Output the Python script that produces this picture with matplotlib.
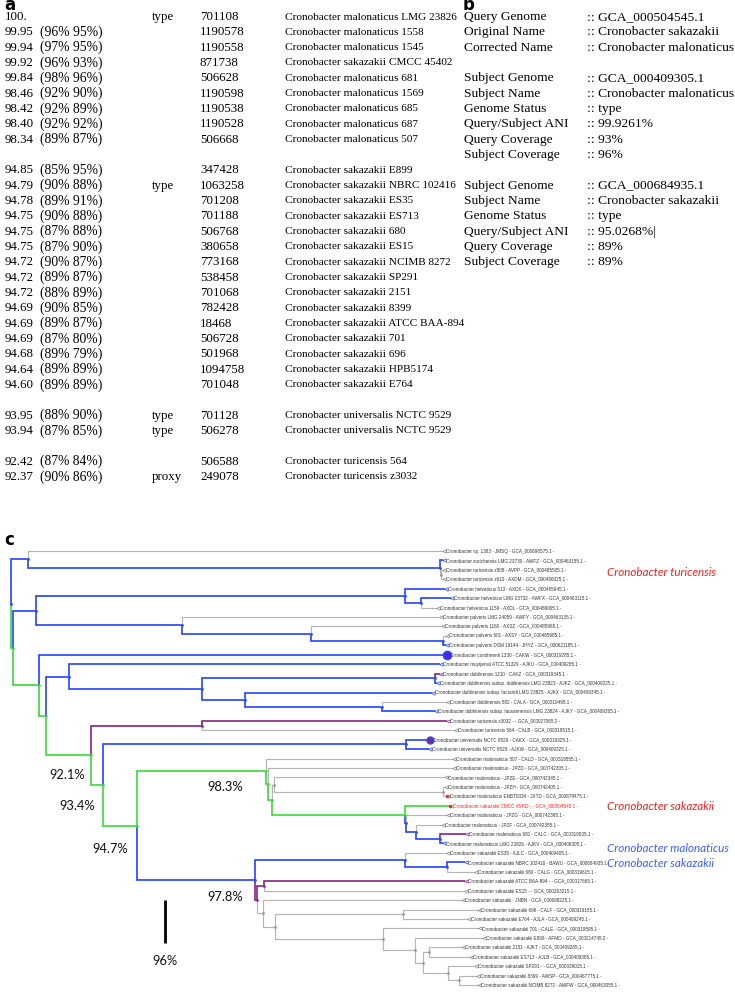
import matplotlib
matplotlib.use("Agg")
import matplotlib.pyplot as plt

W, H = 735, 992
fig = plt.figure(figsize=(W / 100, H / 100), dpi=100)

# ---------------- panel a data ----------------
ani = ["100.", "99.95", "99.94", "99.92", "99.84", "98.46", "98.42", "98.40", "98.34",
       "94.85", "94.79", "94.78", "94.75", "94.75", "94.75", "94.72", "94.72", "94.72",
       "94.69", "94.69", "94.69", "94.68", "94.64", "94.60",
       "93.95", "93.94",
       "92.42", "92.37"]
coverage = ["", "(96% 95%)", "(97% 95%)", "(96% 93%)", "(98% 96%)", "(92% 90%)", "(92% 89%)",
            "(92% 92%)", "(89% 87%)",
            "(85% 95%)", "(90% 88%)", "(89% 91%)", "(90% 88%)", "(87% 88%)", "(87% 90%)",
            "(90% 87%)", "(89% 87%)", "(88% 89%)", "(90% 85%)", "(89% 87%)", "(87% 80%)",
            "(89% 79%)", "(89% 89%)", "(89% 89%)",
            "(88% 90%)", "(87% 85%)",
            "(87% 84%)", "(90% 86%)"]
status = ["type"] + [""] * 9 + ["type"] + [""] * 13 + ["type", "type", "", "proxy"]
taxid = ["701108", "1190578", "1190558", "871738", "506628", "1190598", "1190538", "1190528",
         "506668",
         "347428", "1063258", "701208", "701188", "506768", "380658", "773168", "538458",
         "701068", "782428", "18468", "506728", "501968", "1094758", "701048",
         "701128", "506278",
         "506588", "249078"]
organism = ["Cronobacter malonaticus LMG 23826", "Cronobacter malonaticus 1558",
            "Cronobacter malonaticus 1545", "Cronobacter sakazakii CMCC 45402",
            "Cronobacter malonaticus 681", "Cronobacter malonaticus 1569",
            "Cronobacter malonaticus 685", "Cronobacter malonaticus 687",
            "Cronobacter malonaticus 507",
            "Cronobacter sakazakii E899", "Cronobacter sakazakii NBRC 102416",
            "Cronobacter sakazakii ES35", "Cronobacter sakazakii ES713",
            "Cronobacter sakazakii 680", "Cronobacter sakazakii ES15",
            "Cronobacter sakazakii NCIMB 8272", "Cronobacter sakazakii SP291",
            "Cronobacter sakazakii 2151", "Cronobacter sakazakii 8399",
            "Cronobacter sakazakii ATCC BAA-894", "Cronobacter sakazakii 701",
            "Cronobacter sakazakii 696", "Cronobacter sakazakii HPB5174",
            "Cronobacter sakazakii E764",
            "Cronobacter universalis NCTC 9529", "Cronobacter universalis NCTC 9529",
            "Cronobacter turicensis 564", "Cronobacter turicensis z3032"]
group = [0] * 9 + [1] * 15 + [2] * 2 + [3] * 2

# ---------------- panel b data ----------------
b_keys = ["Query Genome", "Original Name", "Corrected Name", "",
          "Subject Genome", "Subject Name", "Genome Status", "Query/Subject ANI",
          "Query Coverage", "Subject Coverage", "",
          "Subject Genome", "Subject Name", "Genome Status", "Query/Subject ANI",
          "Query Coverage", "Subject Coverage"]
b_vals = ["GCA_000504545.1", "Cronobacter sakazakii", "Cronobacter malonaticus", "",
          "GCA_000409305.1", "Cronobacter malonaticus", "type", "99.9261%", "93%", "96%", "",
          "GCA_000684935.1", "Cronobacter sakazakii", "type", "95.0268%|", "89%", "89%"]

# ---------------- panel c data (tree) ----------------
leaf_names = [
    "Cronobacter sp. 1383 - JMSQ - GCA_000696575.1 -",
    "Cronobacter zurichensis LMG 23730 - AWFZ - GCA_000463155.1 -",
    "Cronobacter turicensis z508 - AVPP - GCA_000485505.1 -",
    "Cronobacter turicensis z610 - AXDM - GCA_000486025.1 -",
    "Cronobacter helveticus 513 - AXDK - GCA_000485945.1 -",
    "Cronobacter helveticus LMG 23732 - AWFX - GCA_000463115.1 -",
    "Cronobacter helveticus 1159 - AXDL - GCA_000486005.1 -",
    "Cronobacter pulveris LMG 24059 - AWFY - GCA_000463135.1 -",
    "Cronobacter pulveris 1160 - AXSZ - GCA_000485965.1 -",
    "Cronobacter pulveris 601 - AXSY - GCA_000485985.1 -",
    "Cronobacter pulveris DSM 19144 - JHYZ - GCA_000621185.1 -",
    "Cronobacter condimenti 1330 - CAKW - GCA_000319285.1 -",
    "Cronobacter muytjensii ATCC 51329 - AJKU - GCA_000409285.1 -",
    "Cronobacter dublinensis 1210 - CAKZ - GCA_000319345.1 -",
    "Cronobacter dublinensis subsp. dublinensis LMG 23823 - AJKZ - GCA_000409225.1 -",
    "Cronobacter dublinensis subsp. lactaridi LMG 23825 - AJKX - GCA_000409345.1 -",
    "Cronobacter dublinensis 582 - CALA - GCA_000319495.1 -",
    "Cronobacter dublinensis subsp. lausannensis LMG 23824 - AJKY - GCA_000409365.1 -",
    "Cronobacter turicensis z3032 - - GCA_000027065.2 -",
    "Cronobacter turicensis 564 - CALB - GCA_000319515.1 -",
    "Cronobacter universalis NCTC 9529 - CAKX - GCA_000319325.1 -",
    "Cronobacter universalis NCTC 9529 - AJKW - GCA_000409325.1 -",
    "Cronobacter malonaticus 507 - CALD - GCA_000319555.1 -",
    "Cronobacter malonaticus - JPZD - GCA_000742305.1 -",
    "Cronobacter malonaticus - JPZE - GCA_000742345.1 -",
    "Cronobacter malonaticus - JPZH - GCA_000742405.1 -",
    "Cronobacter malonaticus ENBT0334 - JXTD - GCA_000878475.1 -",
    "Cronobacter sakazakii CMCC 45402 - - GCA_000504545.1 -",
    "Cronobacter malonaticus - JPZG - GCA_000742395.1 -",
    "Cronobacter malonaticus - JPZF - GCA_000742355.1 -",
    "Cronobacter malonaticus 681 - CALC - GCA_000319535.1 -",
    "Cronobacter malonaticus LMG 23826 - AJKV - GCA_000409305.1 -",
    "Cronobacter sakazakii ES35 - AJLC - GCA_000409405.1 -",
    "Cronobacter sakazakii NBRC 102416 - BAWU - GCA_000684935.1 -",
    "Cronobacter sakazakii 680 - CALG - GCA_000319615.1 -",
    "Cronobacter sakazakii ATCC BAA-894 - - GCA_000017665.1 -",
    "Cronobacter sakazakii ES15 - - GCA_000263215.1 -",
    "Cronobacter sakazakii - JNBN - GCA_000698225.1 -",
    "Cronobacter sakazakii 696 - CALF - GCA_000319155.1 -",
    "Cronobacter sakazakii E764 - AJLA - GCA_000409245.1 -",
    "Cronobacter sakazakii 701 - CALE - GCA_000319595.1 -",
    "Cronobacter sakazakii E899 - AFMO - GCA_000214745.2 -",
    "Cronobacter sakazakii 2151 - AJKT - GCA_000409265.1 -",
    "Cronobacter sakazakii ES713 - AJLB - GCA_000409385.1 -",
    "Cronobacter sakazakii SP291 - - GCA_000339015.1 -",
    "Cronobacter sakazakii 8399 - AWSP - GCA_000467775.1 -",
    "Cronobacter sakazakii NCIMB 8272 - AWFW - GCA_000463055.1 -",
]
leaf_depth = [432, 432, 432, 432, 434, 440, 426, 429, 431, 435, 435, 436, 429, 429, 426,
              421, 436, 424, 436, 444, 419, 418, 442, 442, 434, 434, 436, 439, 436, 431,
              455, 432, 436, 454, 464, 454, 454, 451, 467, 457, 468, 472, 451, 459, 464,
              466, 467]
leaf_color = list("kbkkbbkkkkbbbpbbkbpkbbkkkkkgkkpbkbkpkkkkkkkkkkk")

# internal nodes: name -> (depth, colour of branch into node, children)
nodes = {
    "root": (0, "b", ["T0", "N13"]),
    "T0": (17, "b", [0, "A"]),
    "A": (429, "b", [1, "B"]),
    "B": (430, "k", [2, 3]),
    "N13": (2, "g", ["HP", "N39"]),
    "HP": (25, "b", ["H1", "P1"]),
    "H1": (394, "b", [4, "H2"]),
    "H2": (410, "b", [5, 6]),
    "P1": (171, "b", [7, "P2"]),
    "P2": (300, "b", [8, "P3"]),
    "P3": (432, "b", [9, 10]),
    "N39": (28, "g", [11, "N46"]),
    "N46": (35, "g", ["N69", "N91"]),
    "N69": (58, "b", [12, "D"]),
    "D": (191, "b", ["D1", "D2"]),
    "D1": (424, "b", [13, 14]),
    "D2": (234, "b", [15, "D3"]),
    "D3": (371, "b", [16, 17]),
    "N91": (80, "g", ["T", "N103"]),
    "T": (191, "p", [18, 19]),
    "N103": (92, "g", ["U", "N137"]),
    "U": (395, "b", [20, 21]),
    "N137": (126, "g", ["N1", "S1"]),
    "N1": (255, "g", [22, "N2"]),
    "N2": (257, "g", [23, "N3"]),
    "N3": (261, "g", ["N4", "M2"]),
    "N4": (263, "k", [24, "N4b"]),
    "N4b": (432, "k", [25, 26]),
    "M2": (394, "g", [27, "M3"]),
    "M3": (395, "b", [28, "M4"]),
    "M4": (405, "b", [29, "M5"]),
    "M5": (429, "b", [30, 31]),
    "S1": (244, "b", ["S2", "S3"]),
    "S2": (394, "b", [32, "S2b"]),
    "S2b": (436, "b", [33, 34]),
    "S3": (246, "p", ["S4", "S5"]),
    "S4": (253, "p", [35, 36]),
    "S5": (252, "k", [37, "S6"]),
    "S6": (264, "k", ["S7", "S8"]),
    "S7": (392, "k", [38, 39]),
    "S8": (372, "k", [40, "S9"]),
    "S9": (404, "k", [41, "S10"]),
    "S10": (412, "k", ["S11", "S12"]),
    "S11": (418, "k", [42, 43]),
    "S12": (437, "k", [44, "S13"]),
    "S13": (448, "k", [45, 46]),
}
node_labels = [("92.1%", 56, 23.7), ("93.4%", 66, 27.0), ("94.7%", 99, 31.6),
               ("98.3%", 214, 25.0), ("97.8%", 214, 36.7)]
scale_bar = (154, 37.0, 41.6, "96%")
species_labels = [("Cronobacter turicensis", 2.3, "#ff1a1a"),
                  ("Cronobacter sakazakii", 27.1, "#ff1a1a"),
                  ("Cronobacter malonaticus", 31.5, "#3a5cff"),
                  ("Cronobacter sakazakii", 33.1, "#3a5cff")]

COL = {"b": "#2b49ff", "g": "#3fdc3f", "p": "#8a2a8c", "k": "#b5b5b5"}
LW = {"b": 1.25, "g": 1.25, "p": 1.25, "k": 0.85}

# ---------------- text panels a and b ----------------
axt = fig.add_axes([0, 0, 1, 1])
axt.set_xlim(0, W)
axt.set_ylim(H, 0)
axt.axis("off")

serif = "Liberation Serif"
fs_num = 9.3
fs_cov = 9.8
fs_org = 8.1
fs_b = 9.7
row_y0, row_h = 17.0, 15.33
for i in range(len(ani)):
    r = i + group[i]
    y = row_y0 + row_h * r
    axt.text(5, y, ani[i], fontsize=fs_num, family=serif, va="center")
    axt.text(40, y, coverage[i], fontsize=fs_cov, family=serif, va="center")
    axt.text(152, y, status[i], fontsize=fs_num, family=serif, va="center")
    axt.text(200, y, taxid[i], fontsize=fs_num, family=serif, va="center")
    axt.text(285, y, organism[i], fontsize=fs_org, family=serif, va="center")

for i, (k, v) in enumerate(zip(b_keys, b_vals)):
    if not k:
        continue
    y = row_y0 + row_h * i
    axt.text(464, y, k, fontsize=fs_b, family=serif, va="center")
    axt.text(587, y, ":: " + v, fontsize=fs_b, family=serif, va="center")

for lab, x, y in [("a", 4, 10.5), ("b", 463, 10.5), ("c", 4, 545)]:
    axt.text(x, y, lab, fontsize=12, fontweight="bold", family="DejaVu Sans",
             va="baseline", ha="left")

# ---------------- panel c tree ----------------
top_px, bot_px = 540, 992
y0_px, dy_px = 551.0, 434.0 / 46
ax = fig.add_axes([0, 0, 1, (bot_px - top_px) / H])
ax.set_xlim(-11, W - 11)
ax.set_ylim((bot_px - y0_px) / dy_px, (top_px - y0_px) / dy_px)
ax.axis("off")


def ypos(n):
    if isinstance(n, int):
        return float(n)
    ys = [ypos(k) for k in nodes[n][2]]
    return (ys[0] + ys[-1]) / 2


def draw(n):
    d, c, ch = nodes[n]
    y = ypos(n)
    for k in ch:
        if isinstance(k, int):
            kd, kc, ky = leaf_depth[k], leaf_color[k], float(k)
        else:
            kd, kc, ky = nodes[k][0], nodes[k][1], ypos(k)
        ax.plot([d, d, kd], [y, ky, ky], color=COL[kc], lw=LW[kc],
                solid_joinstyle="miter", solid_capstyle="butt", zorder=2)
        if not isinstance(k, int):
            draw(k)
    ax.plot(d, y, "o", ms=2.0, color=COL[c] if c != "k" else "#999999",
            mec="none", zorder=3)


draw("root")

for i, name in enumerate(leaf_names):
    d = leaf_depth[i]
    ax.plot(d + 0.8, i, marker="<", ms=2.4, mfc="none", mew=0.5,
            color="#888888" if leaf_color[i] == "k" else COL[leaf_color[i]], zorder=3)
    tc = "#ff2020" if i == 27 else "#333333"
    ax.text(d + 3, i, name, fontsize=3.3, family="Liberation Sans", va="center",
            ha="left", color=tc, clip_on=False)

# special tip markers
ax.plot(leaf_depth[11], 11, "o", ms=6, color="#4a2ad8", mec="#2b49ff", zorder=4)
ax.plot(leaf_depth[20], 20, "o", ms=5, color="#7a2a9c", mec="#2b49ff", zorder=4)
for i in (26, 27):
    ax.plot(leaf_depth[i], i, "o", ms=2.5, color="#ff2020", mec="none", zorder=4)

for txt, x, y in node_labels:
    ax.text(x, y, txt, fontsize=9.3, family="Lato", ha="center", va="center",
            color="#111111")

sx, sy0, sy1, stxt = scale_bar
ax.plot([sx, sx], [sy0, sy1], color="black", lw=2.0, solid_capstyle="butt")
ax.text(sx, sy1 + 1.9, stxt, fontsize=9.3, family="Lato", ha="center", va="center",
        color="#111111")

for txt, y, c in species_labels:
    ax.text(596, y, txt, fontsize=8.4, family="Lato", style="italic", color=c,
            ha="left", va="center", clip_on=False)

fig.savefig("out.png", dpi=100)
